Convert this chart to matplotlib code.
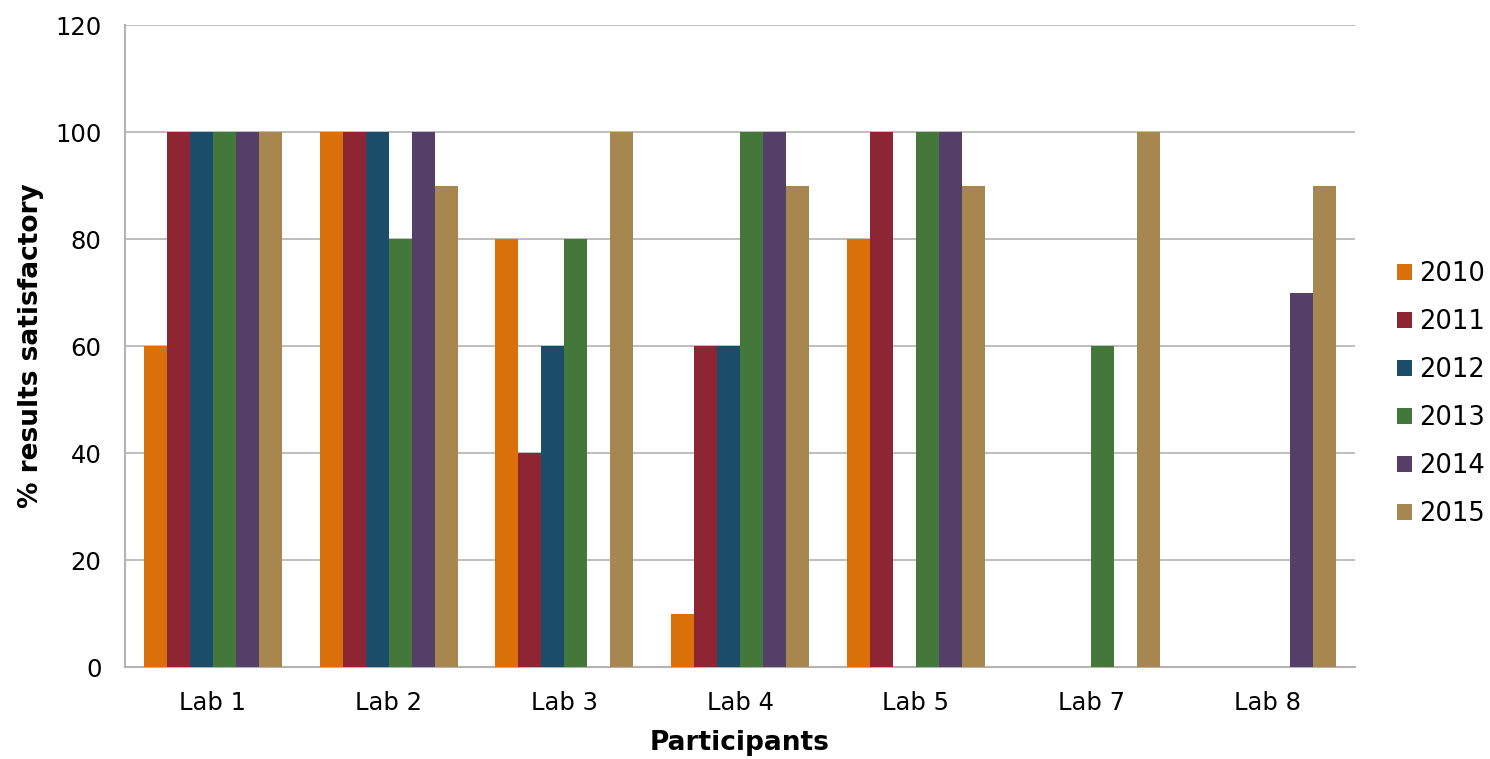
import matplotlib
matplotlib.use("Agg")
import matplotlib.pyplot as plt
import numpy as np

labs = ["Lab 1", "Lab 2", "Lab 3", "Lab 4", "Lab 5", "Lab 7", "Lab 8"]
years = ["2010", "2011", "2012", "2013", "2014", "2015"]
v2010 = [60, 100, 80, 10, 80, 0, 0]
v2011 = [100, 100, 40, 60, 100, 0, 0]
v2012 = [100, 100, 60, 60, 0, 0, 0]
v2013 = [100, 80, 80, 100, 100, 60, 0]
v2014 = [100, 100, 0, 100, 100, 0, 70]
v2015 = [100, 90, 100, 90, 90, 100, 90]
series = [v2010, v2011, v2012, v2013, v2014, v2015]
colors = ["#D9700A", "#8E2533", "#1B4D6B", "#44773A", "#553F68", "#A8864F"]

plt.rcParams['font.family'] = ['DejaVu Sans']
fig = plt.figure(figsize=(14.9, 7.59), dpi=100)
ax = fig.add_axes([0.0839, 0.1212, 0.8255, 0.8458])

x = np.arange(len(labs))
w = 0.131
for i, (vals, c, yr) in enumerate(zip(series, colors, years)):
    ax.bar(x + (i - 2.5) * w, vals, width=w, color=c, label=yr, zorder=3)

ax.set_xlim(-0.5, len(labs) - 0.5)
ax.set_ylim(0, 120)
ax.set_yticks(range(0, 121, 20))
ax.set_xticks(x)
ax.set_xticklabels(labs)
ax.yaxis.grid(True, color="#B3B3B3", linewidth=1.2, zorder=0)
ax.set_axisbelow(True)
for s in ["top", "right"]:
    ax.spines[s].set_visible(False)
for s in ["left", "bottom"]:
    ax.spines[s].set_color("#B3B3B3")
    ax.spines[s].set_linewidth(1.5)
ax.tick_params(axis="both", length=0, labelsize=17.5, pad=17)
ax.set_xlabel("Participants", fontsize=19, fontweight="bold", labelpad=11)
ax.set_ylabel("% results satisfactory", fontsize=19, fontweight="bold", labelpad=8)

fig.legend(loc="center left", bbox_to_anchor=(0.922, 0.481), frameon=False,
           fontsize=18.5, handlelength=0.58, handleheight=0.58, handletextpad=0.3,
           labelspacing=0.86)

fig.savefig("out.png", dpi=100)
